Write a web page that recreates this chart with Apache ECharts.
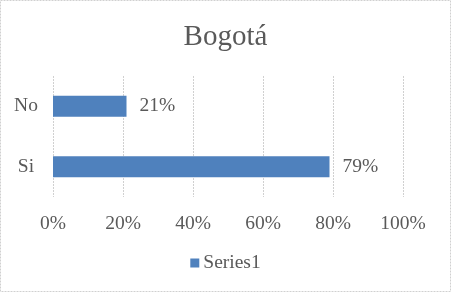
<!DOCTYPE html>
<html>
<head>
<meta charset="utf-8">
<script src="https://cdn.jsdelivr.net/npm/echarts@6/dist/echarts.min.js"></script>
<style>html,body{margin:0;padding:0;background:#fff}#c{width:451px;height:292px}</style>
</head>
<body>
<div id="c"></div>
<script>
var titleText = 'Bogotá';
var categories = ['Si', 'No'];
var seriesName = 'Series1';
var values = [79, 21];
var xTicks = [0, 20, 40, 60, 80, 100];

var FONT = '"Liberation Serif", serif';
var TXT = '#595959';
var chart = echarts.init(document.getElementById('c'), null, {renderer: 'canvas'});
chart.setOption({
  animation: false,
  backgroundColor: '#fff',
  title: {
    text: titleText, left: 'center', top: 18,
    textStyle: {fontFamily: FONT, fontSize: 29, fontWeight: 'normal', color: TXT}
  },
  legend: {
    data: [seriesName], bottom: 14, left: 'center',
    icon: 'rect', itemWidth: 9, itemHeight: 9, itemGap: 5,
    textStyle: {fontFamily: FONT, fontSize: 19.5, color: TXT, padding: [0,0,0,-1]}
  },
  grid: {left: 53, right: 48, top: 76, bottom: 95, containLabel: false},
  xAxis: {
    type: 'value', min: xTicks[0], max: xTicks[xTicks.length - 1], interval: 20,
    axisLine: {show: false}, axisTick: {show: false},
    axisLabel: {formatter: '{value}%', fontFamily: FONT, fontSize: 19.5, color: TXT, margin: 17},
    splitLine: {show: true, lineStyle: {color: '#d0d0d0', width: 1, type: [2, 1]}}
  },
  yAxis: {
    type: 'category', data: categories,
    axisLine: {show: false}, axisTick: {show: false},
    axisLabel: {fontFamily: FONT, fontSize: 19.5, color: TXT, align: 'center', margin: 27}
  },
  series: [{
    name: seriesName, type: 'bar', data: values, barWidth: 21,
    itemStyle: {color: '#4f81bd'},
    label: {show: true, position: 'right', distance: 13, formatter: '{c}%',
      fontFamily: FONT, fontSize: 19.5, color: TXT}
  }],
  graphic: [{
    type: 'rect', shape: {x: 0.5, y: 0.5, width: 450, height: 291},
    style: {fill: 'none', stroke: '#d0d0d0', lineWidth: 1, lineDash: [2, 1]}, silent: true
  }]
});
</script>
</body>
</html>
